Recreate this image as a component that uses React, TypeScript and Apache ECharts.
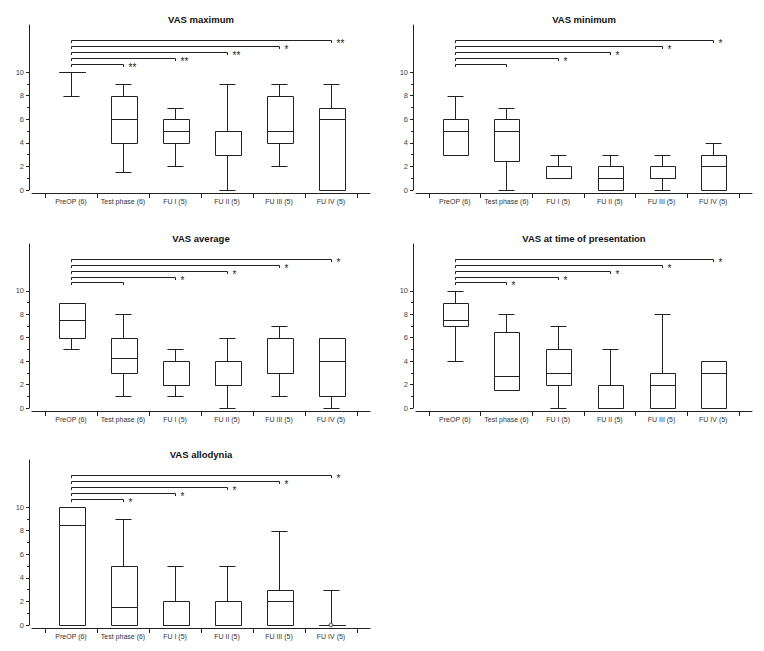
import React, { useEffect, useRef } from "react";
import * as echarts from "echarts";

const categories = ["PreOP (6)", "Test phase (6)", "FU I (5)", "FU II (5)", "FU III (5)", "FU IV (5)"];
const yTickLabels = [0, 2, 4, 6, 8, 10];
const yMinorTicks = [1, 3, 5, 7, 9];
const bracketLevels = [10.72, 11.2, 11.7, 12.2, 12.7];

// [min, Q1, median, Q3, max]
const vasMaximum = [[8, 10, 10, 10, 10], [1.5, 4, 6, 8, 9], [2, 4, 5, 6, 7], [0, 3, 5, 5, 9], [2, 4, 5, 8, 9], [0, 0, 6, 7, 9]];
const vasMinimum = [[3, 3, 5, 6, 8], [0, 2.5, 5, 6, 7], [1, 1, 1, 2, 3], [0, 0, 1, 2, 3], [0, 1, 1, 2, 3], [0, 0, 2, 3, 4]];
const vasAverage = [[5, 6, 7.5, 9, 9], [1, 3, 4.25, 6, 8], [1, 2, 2, 4, 5], [0, 2, 2, 4, 6], [1, 3, 3, 6, 7], [0, 1, 4, 6, 6]];
const vasPresentation = [[4, 7, 7.5, 9, 10], [1.5, 1.5, 2.75, 6.5, 8], [0, 2, 3, 5, 7], [0, 0, 0, 2, 5], [0, 0, 2, 3, 8], [0, 0, 3, 4, 4]];
const vasAllodynia = [[0, 0, 8.5, 10, 10], [0, 0, 1.5, 5, 9], [0, 0, 0, 2, 5], [0, 0, 0, 2, 5], [0, 0, 2, 3, 8], [0, 0, 0, 0, 3]];
const allodyniaOutliers = [[5, 0]];

const maxStars = ["**", "**", "**", "*", "**"];
const minStars = ["", "*", "*", "*", "*"];
const avgStars = ["", "*", "*", "*", "*"];
const presStars = ["*", "*", "*", "*", "*"];
const alloStars = ["*", "*", "*", "*", "*"];

const titles = ["VAS maximum", "VAS minimum", "VAS average", "VAS at time of presentation", "VAS allodynia"];

const FONT = "'Liberation Sans', Arial, Helvetica, sans-serif";
const INK = "#222";

const panels = [
  { title: titles[0], boxes: vasMaximum, stars: maxStars, outliers: [] as number[][], grid: { left: 32, top: 25, width: 338, height: 165 } },
  { title: titles[1], boxes: vasMinimum, stars: minStars, outliers: [] as number[][], grid: { left: 416, top: 25, width: 336, height: 165 } },
  { title: titles[2], boxes: vasAverage, stars: avgStars, outliers: [] as number[][], grid: { left: 32, top: 244, width: 338, height: 164 } },
  { title: titles[3], boxes: vasPresentation, stars: presStars, outliers: [] as number[][], grid: { left: 416, top: 244, width: 336, height: 164 } },
  { title: titles[4], boxes: vasAllodynia, stars: alloStars, outliers: allodyniaOutliers, grid: { left: 32, top: 460, width: 338, height: 165 } },
];

function renderBox(params: any, api: any) {
  const x = api.value(0);
  const mn = api.value(1), q1 = api.value(2), md = api.value(3), q3 = api.value(4), mx = api.value(5);
  const unit = api.size([1, 0])[0];
  const hb = unit * 0.25;
  const hc = unit * 0.155;
  const cx = Math.round(api.coord([x, 0])[0]) + 0.5;
  const yv = (v: number) => Math.round(api.coord([x, v])[1]) + 0.5;
  const yMin = yv(mn), yQ1 = yv(q1), yMd = yv(md), yQ3 = yv(q3), yMax = yv(mx);
  const l = Math.round(cx - hb) + 0.5, r = Math.round(cx + hb) + 0.5;
  const line = (x1: number, y1: number, x2: number, y2: number) => ({
    type: "line",
    shape: { x1, y1, x2, y2 },
    style: { stroke: INK, lineWidth: 1 },
  });
  const children: any[] = [];
  if (mx > q3) {
    children.push(line(cx, yQ3, cx, yMax));
    children.push(line(cx - hc, yMax, cx + hc, yMax));
  }
  if (mn < q1) {
    children.push(line(cx, yQ1, cx, yMin));
    children.push(line(cx - hc, yMin, cx + hc, yMin));
  }
  children.push({
    type: "rect",
    shape: { x: l, y: yQ3, width: r - l, height: yQ1 - yQ3 },
    style: { fill: "#fff", stroke: INK, lineWidth: 1 },
  });
  children.push(line(l, yMd, r, yMd));
  return { type: "group", children };
}

function makeBracketRenderer(stars: string[]) {
  return (params: any, api: any) => {
    const target = api.value(0);
    const level = api.value(1);
    const x0 = Math.round(api.coord([0, level])[0]) + 0.5;
    const p = api.coord([target, level]);
    const xt = Math.round(p[0]) + 0.5;
    const y = Math.round(p[1]) + 0.5;
    const t = 2.5;
    const children: any[] = [
      {
        type: "polyline",
        shape: { points: [[x0, y + t], [x0, y], [xt, y], [xt, y + t]] },
        style: { stroke: INK, lineWidth: 1, fill: "none" },
      },
    ];
    const s = stars[params.dataIndex];
    if (s) {
      children.push({
        type: "text",
        x: xt + 5,
        y: y + 3,
        style: {
          text: s,
          fill: INK,
          fontSize: 10,
          fontFamily: FONT,
          align: "left",
          verticalAlign: "middle",
          textAlign: "left",
          textVerticalAlign: "middle",
        },
      });
    }
    return { type: "group", children };
  };
}

export default function App() {
  const ref = useRef<HTMLDivElement>(null);
  useEffect(() => {
    if (!ref.current) return;
    const chart = echarts.init(ref.current, undefined, { renderer: "svg" });
    const grid: any[] = [];
    const xAxis: any[] = [];
    const yAxis: any[] = [];
    const series: any[] = [];
    const title: any[] = [];
    const xTicks = categories.map((_, i) => i - 0.5).concat([categories.length - 0.5]);
    const xLabels = categories.map((_, i) => i);

    panels.forEach((p, i) => {
      grid.push({ ...p.grid, containLabel: false });
      title.push({
        text: p.title,
        left: p.grid.left + p.grid.width / 2,
        top: p.grid.top - 11,
        textAlign: "center",
        padding: 0,
        textStyle: { fontFamily: FONT, fontSize: 9.5, fontWeight: "bold", color: "#111" },
      });
      xAxis.push({
        type: "value",
        gridIndex: i,
        min: -0.75,
        max: categories.length - 0.25,
        position: "bottom",
        offset: 3,
        axisLine: { show: true, onZero: false, lineStyle: { color: INK, width: 1 } },
        axisTick: { show: true, customValues: xTicks, length: 5, inside: false, lineStyle: { color: INK } },
        axisLabel: {
          show: true,
          customValues: xLabels,
          formatter: (v: number) => categories[Math.round(v)] ?? "",
          fontSize: 7,
          fontFamily: FONT,
          color: "#333",
          margin: 5,
        },
        splitLine: { show: false },
      });
      yAxis.push({
        type: "value",
        gridIndex: i,
        min: 0,
        max: 14,
        position: "left",
        offset: 3,
        axisLine: { show: true, onZero: false, lineStyle: { color: INK, width: 1 } },
        axisTick: { show: true, customValues: yTickLabels, length: 3, lineStyle: { color: INK } },
        axisLabel: { show: true, customValues: yTickLabels, fontSize: 7.5, fontFamily: FONT, color: "#444", margin: 5 },
        splitLine: { show: false },
      });
      yAxis.push({
        type: "value",
        gridIndex: i,
        min: 0,
        max: 14,
        position: "left",
        offset: 3,
        axisLine: { show: false, onZero: false },
        axisTick: { show: true, customValues: yMinorTicks, length: 2, lineStyle: { color: INK } },
        axisLabel: { show: false, customValues: yMinorTicks },
        splitLine: { show: false },
      });
      series.push({
        type: "custom",
        xAxisIndex: i,
        yAxisIndex: i * 2,
        renderItem: renderBox,
        encode: { x: 0, y: [1, 2, 3, 4, 5] },
        data: p.boxes.map((b, j) => [j, ...b]),
        silent: true,
      });
      series.push({
        type: "custom",
        xAxisIndex: i,
        yAxisIndex: i * 2,
        renderItem: makeBracketRenderer(p.stars),
        encode: { x: 0, y: 1 },
        data: bracketLevels.map((lv, k) => [k + 1, lv]),
        silent: true,
      });
      if (p.outliers.length) {
        series.push({
          type: "scatter",
          xAxisIndex: i,
          yAxisIndex: i * 2,
          symbol: "circle",
          symbolSize: 4,
          z: 5,
          itemStyle: { color: "#fff", borderColor: INK, borderWidth: 1 },
          data: p.outliers,
          silent: true,
        });
      }
    });

    chart.setOption({
      animation: false,
      backgroundColor: "#fff",
      title,
      grid,
      xAxis,
      yAxis,
      series,
    });
    return () => chart.dispose();
  }, []);
  return <div ref={ref} style={{ position: "absolute", left: 0, top: 0, width: 764, height: 651 }} />;
}
